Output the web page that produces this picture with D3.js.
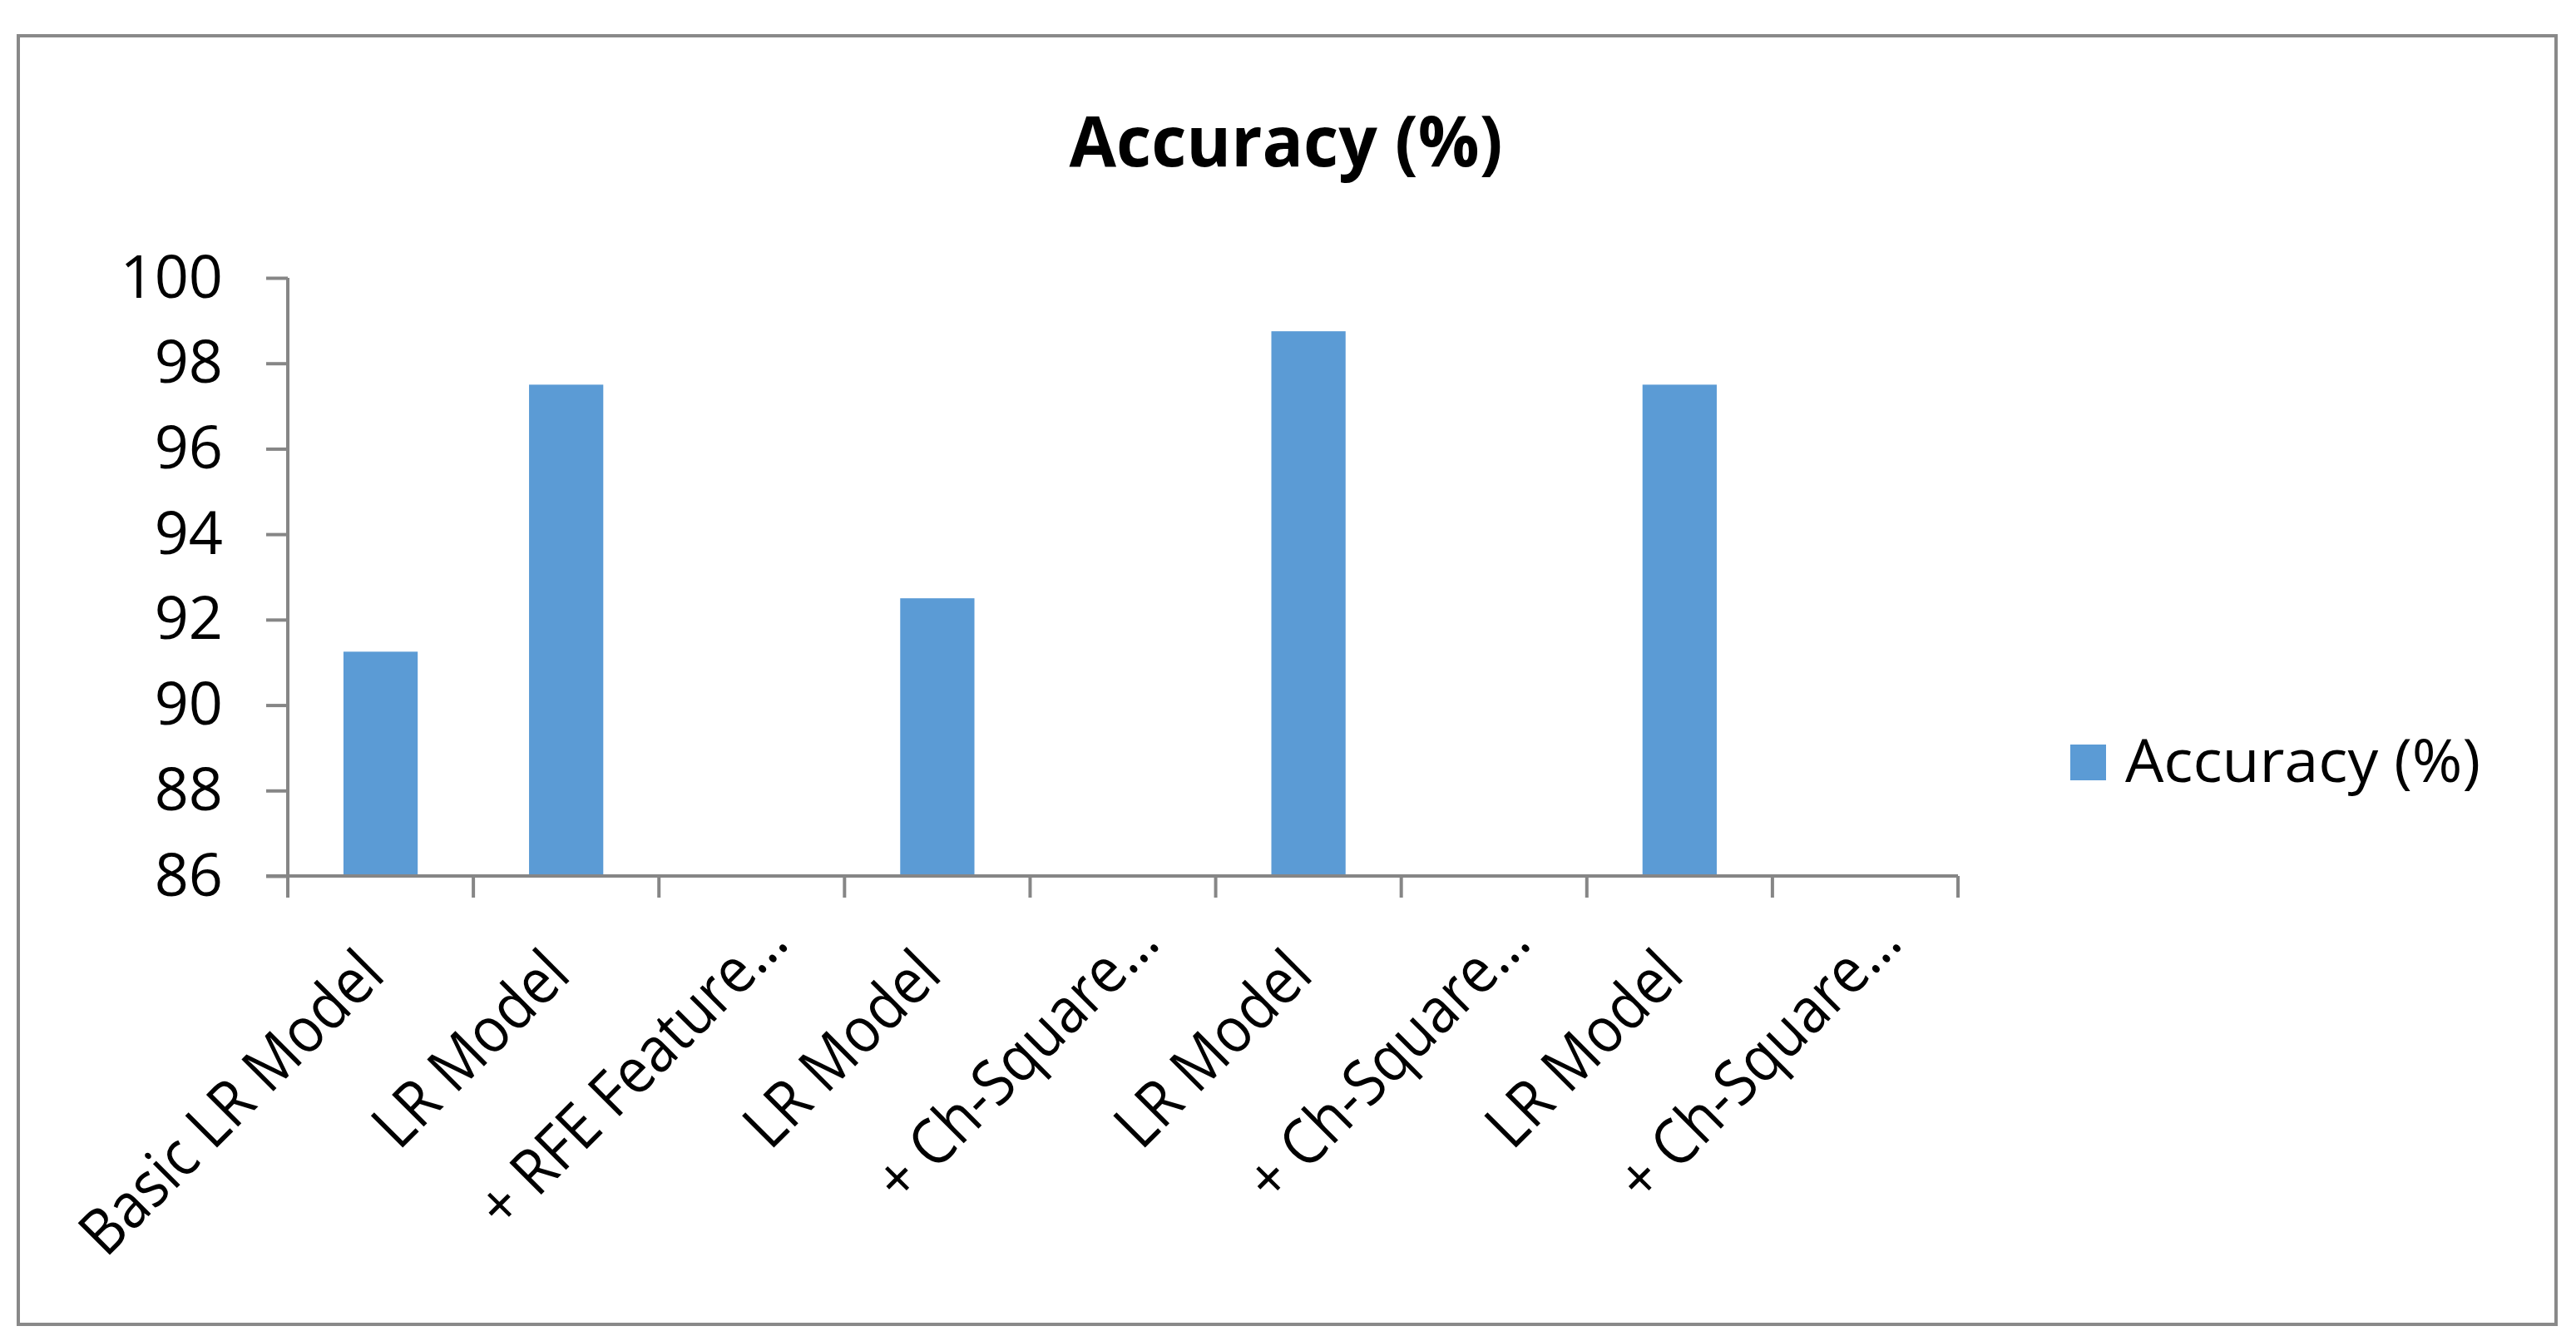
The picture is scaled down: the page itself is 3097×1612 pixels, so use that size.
<!DOCTYPE html>
<html><head><meta charset="utf-8">
<script src="https://cdn.jsdelivr.net/npm/d3@7"></script>
<style>html,body{margin:0;padding:0;background:#fff;}</style>
</head><body>
<svg id="chart" width="3097" height="1612"></svg>
<script>
const categories = ["Basic LR Model","LR Model","+ RFE Feature…","LR Model","+ Ch-Square…","LR Model","+ Ch-Square…","LR Model","+ Ch-Square…"];
const accuracy = [91.25, 97.5, null, 92.5, null, 98.75, null, 97.5, null];
const yTicks = [86, 88, 90, 92, 94, 96, 98, 100];
const title = "Accuracy (%)";
const seriesName = "Accuracy (%)";

const svg = d3.select("#chart");
const font = "'Open Sans', sans-serif";
const axisColor = "#868686";
const barColor = "#5B9BD5";

svg.append("rect").attr("x", 0).attr("y", 0).attr("width", 3097).attr("height", 1612).attr("fill", "#fff");
svg.append("rect").attr("x", 22).attr("y", 43).attr("width", 3051).attr("height", 1549)
  .attr("fill", "none").attr("stroke", "#898989").attr("stroke-width", 4);

const x = d3.scaleBand().domain(d3.range(categories.length)).range([346, 2354]).paddingInner(0.6).paddingOuter(0.3);
const y = d3.scaleLinear().domain([86, 100]).range([1053, 334]);

// title
svg.append("text").attr("x", 1546).attr("y", 200).attr("text-anchor", "middle")
  .attr("font-family", font).attr("font-weight", "bold").attr("font-size", 84)
  .attr("textLength", 521).attr("lengthAdjust", "spacingAndGlyphs").text(title);

// bars
svg.append("g").selectAll("rect").data(accuracy.map((v, i) => ({v, i})).filter(d => d.v != null))
  .join("rect")
  .attr("x", d => x(d.i)).attr("width", x.bandwidth())
  .attr("y", d => y(d.v)).attr("height", d => y(86) - y(d.v))
  .attr("fill", barColor);

// y axis
const yAxis = svg.append("g").attr("transform", "translate(346,0)")
  .call(d3.axisLeft(y).tickValues(yTicks).tickSize(26).tickPadding(52).tickFormat(d3.format("d")));
yAxis.select(".domain").attr("stroke", axisColor).attr("stroke-width", 4).attr("d", `M0,${y(100)}V${y(86)+26}`);
yAxis.selectAll(".tick line").attr("stroke", axisColor).attr("stroke-width", 4);
yAxis.selectAll(".tick text").attr("font-family", font).attr("font-size", 72).attr("fill", "#000");

// x axis
const step = x.step();
const xAxis = svg.append("g").attr("transform", `translate(0,${y(86)})`);
xAxis.append("line").attr("x1", 346 - 26).attr("x2", 2354).attr("y1", 0).attr("y2", 0)
  .attr("stroke", axisColor).attr("stroke-width", 4);
xAxis.selectAll(".xt").data(d3.range(categories.length + 1)).join("line")
  .attr("x1", i => 346 + i * step).attr("x2", i => 346 + i * step)
  .attr("y1", 0).attr("y2", 26).attr("stroke", axisColor).attr("stroke-width", 4);
const xl = xAxis.selectAll(".xl").data(categories).join("text")
  .attr("transform", (d, i) => `translate(${x(i) + x.bandwidth()/2 + 8},${122}) rotate(-45)`)
  .attr("text-anchor", "end")
  .attr("dx", d => d.endsWith("…") ? 55 : 0)
  .attr("font-family", font).attr("font-size", 76).attr("fill", "#000")
  .text(d => d);
xl.each(function() {
  const L = this.getComputedTextLength();
  d3.select(this).attr("textLength", L * 0.9).attr("lengthAdjust", "spacingAndGlyphs");
});

// legend
svg.append("rect").attr("x", 2489).attr("y", 895).attr("width", 43).attr("height", 43).attr("fill", barColor);
svg.append("text").attr("x", 2555).attr("y", 940).attr("font-family", font).attr("font-size", 72)
  .attr("textLength", 427).attr("lengthAdjust", "spacingAndGlyphs").text(seriesName);
</script>
</body></html>
